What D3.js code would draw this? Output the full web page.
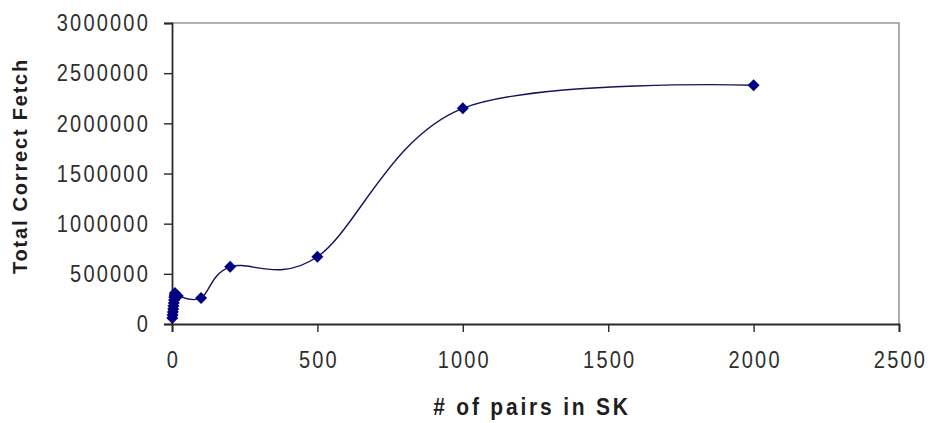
<!DOCTYPE html>
<html>
<head>
<meta charset="utf-8">
<script src="https://cdn.jsdelivr.net/npm/d3@7"></script>
<style>
  html, body { margin: 0; padding: 0; background: #fff; }
  svg { display: block; }
  text { font-family: "Liberation Sans", Arial, sans-serif; }
</style>
</head>
<body>
<svg id="chart" width="928" height="423"></svg>
<script>
// Number of pairs in SK vs. total correct fetches
const pairs   = [1, 2, 3, 4, 5, 6, 7, 8, 9, 10, 20, 100, 200, 500, 1000, 2000];
const fetches = [60000, 90000, 120000, 150000, 180000, 210000, 240000, 270000, 290000, 310000, 280000, 260000, 570000, 670000, 2150000, 2380000];
const xTicks = [0, 500, 1000, 1500, 2000, 2500];
const yTicks = [0, 500000, 1000000, 1500000, 2000000, 2500000, 3000000];
const xTitle = "# of pairs in SK";
const yTitle = "Total Correct Fetch";

const svg = d3.select("#chart");
const m = { left: 172, right: 899, top: 23, bottom: 324 };

const x = d3.scaleLinear().domain([0, 2500]).range([m.left, m.right]);
const y = d3.scaleLinear().domain([0, 3000000]).range([m.bottom, m.top]);

// plot frame (top and right edges)
svg.append("path")
  .attr("d", `M${m.left},${m.top}H${m.right}V${m.bottom}`)
  .attr("fill", "none").attr("stroke", "#9a9a9a").attr("stroke-width", 1.6);

const yAxis = svg.append("g")
  .attr("transform", `translate(${m.left},0)`)
  .call(d3.axisLeft(y).tickValues(yTicks).tickFormat(d3.format("d")).tickSize(8));
const xAxis = svg.append("g")
  .attr("transform", `translate(0,${m.bottom})`)
  .call(d3.axisBottom(x).tickValues(xTicks).tickFormat(d3.format("d")).tickSize(8));

[yAxis, xAxis].forEach(g => {
  g.select(".domain").attr("stroke", "#2a2a2a").attr("stroke-width", 1.8);
  g.selectAll(".tick line").attr("stroke", "#2a2a2a").attr("stroke-width", 1.4);
  g.selectAll(".tick text")
    .attr("fill", "#2e2e2e")
    .style("font-size", "20px")
    .style("letter-spacing", "2.2px")
    .attr("transform", "scale(1,1.22)");
});
yAxis.selectAll(".tick text").attr("x", -22);
xAxis.selectAll(".tick text").attr("y", 22).attr("dx", "1px");

// axis titles
svg.append("text")
  .attr("transform", "translate(532,415) scale(1,1.15)")
  .attr("text-anchor", "middle")
  .style("font-weight", "bold").style("font-size", "21px")
  .style("letter-spacing", "2.8px")
  .attr("fill", "#1e1e1e")
  .text(xTitle);

svg.append("text")
  .attr("transform", `translate(27,166) rotate(-90)`)
  .attr("text-anchor", "middle")
  .style("font-weight", "bold").style("font-size", "20px")
  .style("letter-spacing", "1.8px")
  .attr("fill", "#1e1e1e")
  .text(yTitle);

const pts = pairs.map((p, i) => [p, fetches[i]]);

// smoothed series line
svg.append("path")
  .datum(pts)
  .attr("fill", "none")
  .attr("stroke", "#14145a")
  .attr("stroke-width", 1.4)
  .attr("d", d3.line().x(d => x(d[0])).y(d => y(d[1])).curve(d3.curveCatmullRom.alpha(0)));

// diamond markers
const r = 6;
svg.append("g").selectAll("path")
  .data(pts)
  .join("path")
  .attr("transform", d => `translate(${x(d[0])},${y(d[1])})`)
  .attr("d", `M0,${-r}L${r},0L0,${r}L${-r},0Z`)
  .attr("fill", "#000080");
</script>
</body>
</html>
